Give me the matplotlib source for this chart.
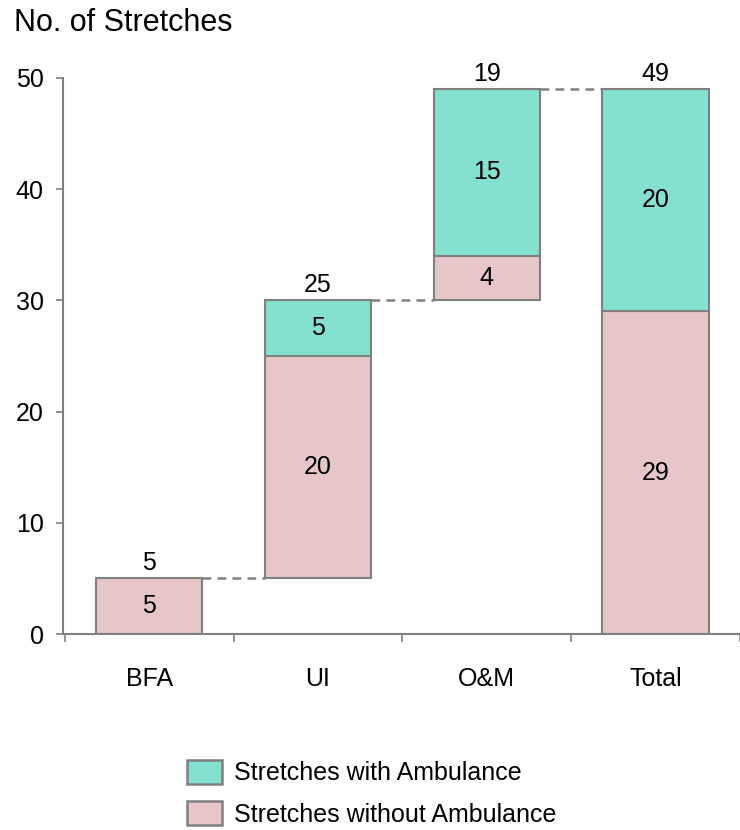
import numpy as np
import matplotlib.pyplot as plt
from matplotlib.patches import Patch

plt.rcParams['font.family'] = ['Liberation Sans', 'DejaVu Sans']

categories = ["BFA", "UI", "O&M", "Total"]
without_amb = [5, 20, 4, 29]
with_amb = [0, 5, 15, 20]
bases = [0, 5, 30, 0]

col_with = "#84E0D0"
col_without = "#E6C6C7"
edge = "#808080"
fs = 18

fig = plt.figure(figsize=(7.4, 8.3), dpi=100)
ax = fig.add_axes([0.0851, 0.2361, 0.915, 0.670])

x = np.arange(len(categories))
w = 0.63
wo = np.array(without_amb)
wi = np.array(with_amb)
b = np.array(bases)

ax.bar(x, wo, w, bottom=b, color=col_without, edgecolor=edge, linewidth=1.5, zorder=2)
for i in range(len(x)):
    if wi[i] > 0:
        ax.bar(x[i], wi[i], w, bottom=b[i] + wo[i], color=col_with, edgecolor=edge,
               linewidth=1.5, zorder=2)

# segment labels and totals
for i in range(len(x)):
    ax.text(x[i], b[i] + wo[i] / 2, str(wo[i]), ha="center", va="center", fontsize=fs)
    if wi[i] > 0:
        ax.text(x[i], b[i] + wo[i] + wi[i] / 2, str(wi[i]), ha="center", va="center", fontsize=fs)
    top = b[i] + wo[i] + wi[i]
    ax.text(x[i], top + 0.3, str(wo[i] + wi[i]), ha="center", va="bottom", fontsize=fs)

# dashed connectors between steps
for i in range(len(x) - 1):
    top = b[i] + wo[i] + wi[i]
    ax.plot([x[i] + w / 2, x[i + 1] - w / 2], [top, top], color=edge, lw=1.8,
            ls=(0, (3.5, 2.5)), zorder=1)

ax.set_xlim(-0.51, 3.45)
ax.set_ylim(0, 50)
ax.set_yticks(range(0, 51, 10))
ax.tick_params(axis="y", labelsize=fs, color=edge, length=5, width=1.2, pad=9)
ax.set_xticks(np.arange(-0.5, 3.6, 1))
ax.set_xticklabels([])
ax.tick_params(axis="x", color=edge, length=6, width=1.2)
ax.set_xticks(x, minor=True)
ax.set_xticklabels(categories, minor=True)
ax.tick_params(axis="x", which="minor", length=0, labelsize=fs, pad=24)

for s in ["top", "right"]:
    ax.spines[s].set_visible(False)
for s in ["left", "bottom"]:
    ax.spines[s].set_color(edge)
    ax.spines[s].set_linewidth(1.5)

fig.text(0.019, 0.972, "No. of Stretches", fontsize=22, ha="left", va="center")

handles = [Patch(facecolor=col_with, edgecolor=edge, linewidth=1.8, label="Stretches with Ambulance"),
           Patch(facecolor=col_without, edgecolor=edge, linewidth=1.8, label="Stretches without Ambulance")]
fig.legend(handles=handles, loc="upper left", bbox_to_anchor=(187 / 740, 1 - 760 / 830),
           frameon=False, fontsize=fs, handlelength=1.4, handleheight=1.1,
           handletextpad=0.5, labelspacing=0.62, borderaxespad=0, borderpad=0)

fig.savefig("out.png", dpi=100)
